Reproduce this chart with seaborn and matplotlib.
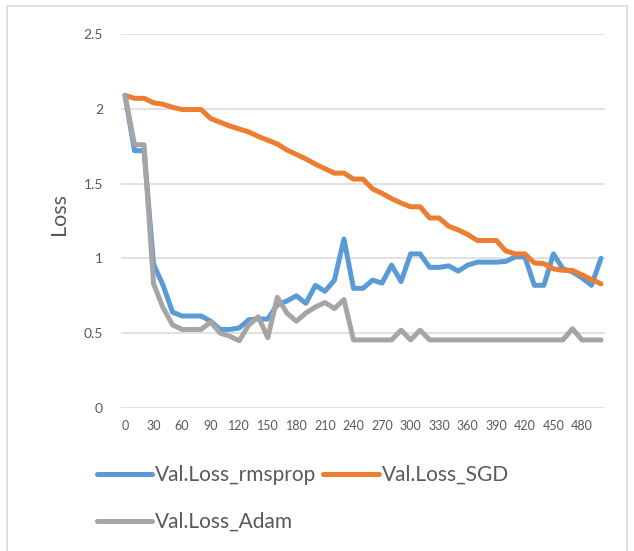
import matplotlib
matplotlib.use("Agg")
import matplotlib.pyplot as plt
from matplotlib.patches import Rectangle
from matplotlib.lines import Line2D
import numpy as np
import pandas as pd
import seaborn as sns

# Validation loss recorded every 10 epochs (0 .. 500)
epochs = list(range(0, 501, 10))

loss_rmsprop = [2.09, 1.72, 1.72, 0.96, 0.82, 0.64, 0.615, 0.615, 0.615, 0.58,
                0.525, 0.525, 0.535, 0.59, 0.595, 0.595, 0.69, 0.715, 0.75, 0.70,
                0.82, 0.78, 0.855, 1.13, 0.80, 0.80, 0.855, 0.835, 0.955, 0.845,
                1.03, 1.03, 0.94, 0.94, 0.95, 0.915, 0.955, 0.975, 0.975, 0.975,
                0.98, 1.01, 1.01, 0.82, 0.82, 1.03, 0.93, 0.91, 0.87, 0.82,
                1.00]

loss_sgd = [2.09, 2.07, 2.07, 2.04, 2.03, 2.01, 1.995, 1.995, 1.995, 1.935,
            1.91, 1.885, 1.865, 1.845, 1.815, 1.79, 1.765, 1.725, 1.695, 1.665,
            1.63, 1.60, 1.57, 1.57, 1.53, 1.53, 1.465, 1.435, 1.40, 1.37,
            1.345, 1.345, 1.27, 1.27, 1.215, 1.19, 1.16, 1.12, 1.12, 1.12,
            1.05, 1.03, 1.03, 0.97, 0.965, 0.93, 0.92, 0.92, 0.89, 0.86,
            0.83]

loss_adam = [2.09, 1.76, 1.76, 0.83, 0.67, 0.555, 0.525, 0.525, 0.525, 0.575,
             0.50, 0.48, 0.45, 0.555, 0.61, 0.47, 0.74, 0.635, 0.58, 0.635,
             0.675, 0.705, 0.665, 0.725, 0.455, 0.455, 0.455, 0.455, 0.455, 0.52,
             0.455, 0.52, 0.455, 0.455, 0.455, 0.455, 0.455, 0.455, 0.455, 0.455,
             0.455, 0.455, 0.455, 0.455, 0.455, 0.455, 0.455, 0.53, 0.455, 0.455,
             0.455]

series_names = ["Val.Loss_rmsprop", "Val.Loss_SGD", "Val.Loss_Adam"]
series_colors = ["#5B9BD5", "#ED7D31", "#A5A5A5"]
x_ticks = list(range(0, 481, 30))
y_ticks = [0, 0.5, 1, 1.5, 2, 2.5]
y_tick_labels = ["0", "0.5", "1", "1.5", "2", "2.5"]

df = pd.concat([
    pd.DataFrame({"epoch": epochs, "loss": vals, "series": name})
    for name, vals in zip(series_names, [loss_rmsprop, loss_sgd, loss_adam])
], ignore_index=True)

sns.set_style("white")
plt.rcParams["font.family"] = ["Lato", "DejaVu Sans"]
text_color = "#595959"
grid_color = "#D9D9D9"

W, H = 634, 551
fig = plt.figure(figsize=(W / 100, H / 100), dpi=100)
ax = fig.add_axes([121 / W, (H - 408) / H, 484 / W, 374 / H])

lw = 3.6
sns.lineplot(data=df, x="epoch", y="loss", hue="series", hue_order=series_names,
             palette=series_colors, linewidth=lw, ax=ax, legend=False,
             solid_joinstyle="round", solid_capstyle="round")

ax.set_xlim(-4.2, 504.2)
ax.set_ylim(0, 2.5)
ax.set_xticks(x_ticks)
ax.set_xticklabels([str(t) for t in x_ticks], fontsize=9, color=text_color)
ax.set_yticks(y_ticks)
ax.set_yticklabels(y_tick_labels, fontsize=10, color=text_color)
ax.tick_params(axis="both", length=0)
ax.tick_params(axis="y", pad=13)
ax.tick_params(axis="x", pad=9)
ax.yaxis.grid(True, color=grid_color, linewidth=1.1)
ax.set_axisbelow(True)
for s in ax.spines.values():
    s.set_visible(False)
ax.set_xlabel("")
ax.set_ylabel("Loss", fontsize=15.5, color=text_color)
ax.yaxis.set_label_coords(-0.108, 0.52)

# Legend: two entries on the first row, Adam on the second
handles = {n: Line2D([0], [0], color=c, lw=lw, solid_capstyle="round")
           for n, c in zip(series_names, series_colors)}
order = ["Val.Loss_rmsprop", "Val.Loss_Adam", "Val.Loss_SGD"]
leg = fig.legend([handles[n] for n in order], order, ncol=2, frameon=False,
                 loc="upper left", bbox_to_anchor=(97 / W, 1 - 465 / H),
                 fontsize=15, handlelength=2.65, handletextpad=0.15,
                 columnspacing=0.33, labelspacing=1.3, borderpad=0,
                 borderaxespad=0)
for t in leg.get_texts():
    t.set_color(text_color)

# Chart border
fig.patches.append(Rectangle((7 / W, -0.01), 620 / W, (H - 6) / H + 0.01,
                             transform=fig.transFigure, fill=False,
                             edgecolor=grid_color, linewidth=1.2))

fig.savefig("out.png", dpi=100)
